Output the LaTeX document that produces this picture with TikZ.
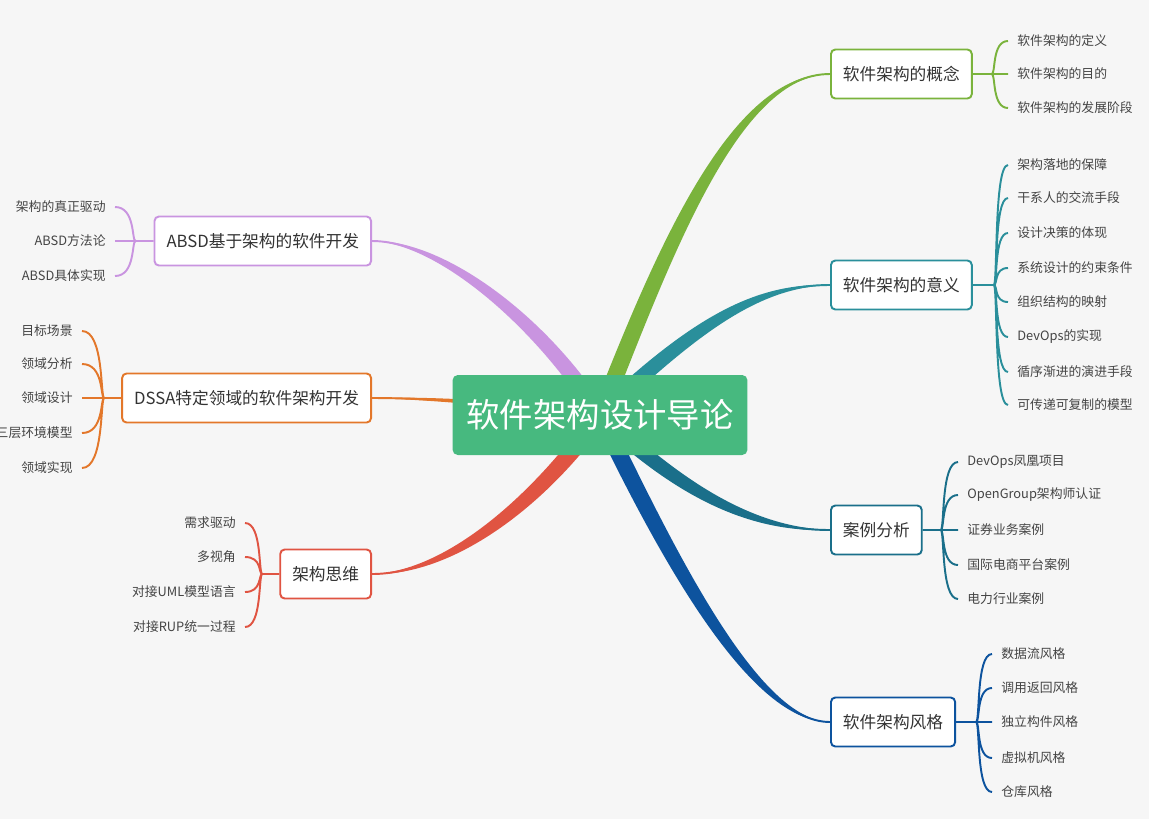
\documentclass[tikz,border=0pt]{standalone}
\usepackage{fontspec}
\setmainfont{Noto Sans CJK SC}
\usepackage{tikz}
\usetikzlibrary{calc,positioning}
\definecolor{PaperGray}{HTML}{F6F6F6}
\definecolor{RootGreen}{HTML}{47B97F}
\definecolor{IdeaGreen}{HTML}{7AB33C}
\definecolor{MeanTeal}{HTML}{2A8F9B}
\definecolor{CaseTeal}{HTML}{1A6F8A}
\definecolor{StyleBlue}{HTML}{0D539E}
\definecolor{AbsdPurple}{HTML}{C994E0}
\definecolor{DssaOrange}{HTML}{E3772A}
\definecolor{ThinkRed}{HTML}{E05442}
\definecolor{InkGray}{HTML}{333333}
\definecolor{LeafGray}{HTML}{444444}
\pgfdeclarelayer{paper}
\pgfdeclarelayer{limbs}
\pgfsetlayers{paper,limbs,main}
% tapered branch: colour, start, control 1, control 2, end, half width
\newcommand{\limb}[6]{%
  \fill[#1] ($#2+#6$) .. controls ($#3+#6$) and ($#4+0.5*#6$) .. #5
    .. controls ($#4-0.5*#6$) and ($#3-#6$) .. ($#2-#6$) -- cycle;
  \draw[#1,line width=1.1pt] #2 .. controls #3 and #4 .. #5;}

\begin{document}
\begin{tikzpicture}[
    x=0.02cm, y=-0.02cm,
    hub/.style={fill=RootGreen,rounded corners=3pt,minimum width=5.9cm,minimum height=1.6cm,text=white,font=\fontsize{19}{22}\selectfont},
    topic/.style={draw,fill=white,line width=1.1pt,rounded corners=2.5pt,minimum height=0.98cm,inner xsep=0.24cm,text=InkGray,font=\fontsize{9.5}{11}\selectfont},
    leaf/.style={inner xsep=0.18cm,inner ysep=1pt,text=LeafGray,font=\fontsize{7.3}{9}\selectfont},
    twig/.style={line width=1.1pt},
    twigR/.style={twig,to path={.. controls ($(\tikztostart)+(4,0)$) and (\tikztostart |- \tikztotarget) .. (\tikztotarget)}},
    twigL/.style={twig,to path={.. controls ($(\tikztostart)+(-4,0)$) and (\tikztostart |- \tikztotarget) .. (\tikztotarget)}}
  ]
  \useasboundingbox (0,0) rectangle (1149,819);
  \begin{pgfonlayer}{paper}
    \fill[PaperGray] (0,0) rectangle (1149,819);
  \end{pgfonlayer}

  \node[hub] (root) at (600,415) {软件架构设计导论};

  % right side
  \node[topic,draw=IdeaGreen,anchor=west] (concept) at (830,74) {软件架构的概念};
  \node[topic,draw=MeanTeal,anchor=west] (meaning) at (830,285) {软件架构的意义};
  \node[topic,draw=CaseTeal,anchor=west] (cases) at (830,530) {案例分析};
  \node[topic,draw=StyleBlue,anchor=west] (styles) at (830,722) {软件架构风格};

  \node[leaf,anchor=west] (c11) at (1008,41) {软件架构的定义};
  \node[leaf,anchor=west] (c12) at (1008,74) {软件架构的目的};
  \node[leaf,anchor=west] (c13) at (1008,108) {软件架构的发展阶段};

  \node[leaf,anchor=west] (m1) at (1008,165) {架构落地的保障};
  \node[leaf,anchor=west] (m2) at (1008,198) {干系人的交流手段};
  \node[leaf,anchor=west] (m3) at (1008,233) {设计决策的体现};
  \node[leaf,anchor=west] (m4) at (1008,268) {系统设计的约束条件};
  \node[leaf,anchor=west] (m5) at (1008,302) {组织结构的映射};
  \node[leaf,anchor=west] (m6) at (1008,337) {DevOps的实现};
  \node[leaf,anchor=west] (m7) at (1008,372) {循序渐进的演进手段};
  \node[leaf,anchor=west] (m8) at (1008,405) {可传递可复制的模型};

  \node[leaf,anchor=west] (k1) at (958,462) {DevOps凤凰项目};
  \node[leaf,anchor=west] (k2) at (958,495) {OpenGroup架构师认证};
  \node[leaf,anchor=west] (k3) at (958,530) {证券业务案例};
  \node[leaf,anchor=west] (k4) at (958,565) {国际电商平台案例};
  \node[leaf,anchor=west] (k5) at (958,599) {电力行业案例};

  \node[leaf,anchor=west] (s1) at (992,654) {数据流风格};
  \node[leaf,anchor=west] (s2) at (992,688) {调用返回风格};
  \node[leaf,anchor=west] (s3) at (992,722) {独立构件风格};
  \node[leaf,anchor=west] (s4) at (992,758) {虚拟机风格};
  \node[leaf,anchor=west] (s5) at (992,792) {仓库风格};

  % left side
  \node[topic,draw=AbsdPurple,anchor=east] (absd) at (372,241) {ABSD基于架构的软件开发};
  \node[topic,draw=DssaOrange,anchor=east] (dssa) at (372,398) {DSSA特定领域的软件架构开发};
  \node[topic,draw=ThinkRed,anchor=east] (think) at (372,574) {架构思维};

  \node[leaf,anchor=east] (b1) at (115,207) {架构的真正驱动};
  \node[leaf,anchor=east] (b2) at (115,241) {ABSD方法论};
  \node[leaf,anchor=east] (b3) at (115,276) {ABSD具体实现};

  \node[leaf,anchor=east] (d1) at (82,331) {目标场景};
  \node[leaf,anchor=east] (d2) at (82,364) {领域分析};
  \node[leaf,anchor=east] (d3) at (82,398) {领域设计};
  \node[leaf,anchor=east] (d4) at (82,433) {三层环境模型};
  \node[leaf,anchor=east] (d5) at (82,468) {领域实现};

  \node[leaf,anchor=east] (t1) at (245,523) {需求驱动};
  \node[leaf,anchor=east] (t2) at (245,557) {多视角};
  \node[leaf,anchor=east] (t3) at (245,592) {对接UML模型语言};
  \node[leaf,anchor=east] (t4) at (245,627) {对接RUP统一过程};

  % forks
  \coordinate (f1) at ($(concept.east)+(19,0)$);
  \coordinate (f2) at ($(meaning.east)+(21,0)$);
  \coordinate (f3) at ($(cases.east)+(18,0)$);
  \coordinate (f4) at ($(styles.east)+(20,0)$);
  \coordinate (f5) at ($(absd.west)+(-18,0)$);
  \coordinate (f6) at ($(dssa.west)+(-17,0)$);
  \coordinate (f7) at ($(think.west)+(-17,0)$);

  \draw[twigR,IdeaGreen] (concept.east) -- (f1) to (c11.west) (f1) to (c12.west) (f1) to (c13.west);
  \draw[twigR,MeanTeal] (meaning.east) -- (f2) to (m1.west) (f2) to (m2.west) (f2) to (m3.west) (f2) to (m4.west)
    (f2) to (m5.west) (f2) to (m6.west) (f2) to (m7.west) (f2) to (m8.west);
  \draw[twigR,CaseTeal] (cases.east) -- (f3) to (k1.west) (f3) to (k2.west) (f3) to (k3.west) (f3) to (k4.west) (f3) to (k5.west);
  \draw[twigR,StyleBlue] (styles.east) -- (f4) to (s1.west) (f4) to (s2.west) (f4) to (s3.west) (f4) to (s4.west) (f4) to (s5.west);
  \draw[twigL,AbsdPurple] (absd.west) -- (f5) to (b1.east) (f5) to (b2.east) (f5) to (b3.east);
  \draw[twigL,DssaOrange] (dssa.west) -- (f6) to (d1.east) (f6) to (d2.east) (f6) to (d3.east) (f6) to (d4.east) (f6) to (d5.east);
  \draw[twigL,ThinkRed] (think.west) -- (f7) to (t1.east) (f7) to (t2.east) (f7) to (t3.east) (f7) to (t4.east);

  % main branches, behind the root
  \begin{pgfonlayer}{limbs}
    \limb{IdeaGreen}{(root.center)}{(665,250)}{(735,74)}{(concept.west)}{(8,3)}
    \limb{MeanTeal}{(root.center)}{(700,320)}{(760,285)}{(meaning.west)}{(6,5)}
    \limb{CaseTeal}{(root.center)}{(690,500)}{(760,530)}{(cases.west)}{(6,-5)}
    \limb{StyleBlue}{(root.center)}{(670,560)}{(755,722)}{(styles.west)}{(8,-3)}
    \limb{AbsdPurple}{(root.center)}{(540,320)}{(440,241)}{(absd.east)}{(7,-4)}
    \limb{DssaOrange}{(root.center)}{(500,402)}{(420,398)}{(dssa.east)}{(0,3)}
    \limb{ThinkRed}{(root.center)}{(540,500)}{(450,574)}{(think.east)}{(7,5)}
  \end{pgfonlayer}
\end{tikzpicture}
\end{document}
